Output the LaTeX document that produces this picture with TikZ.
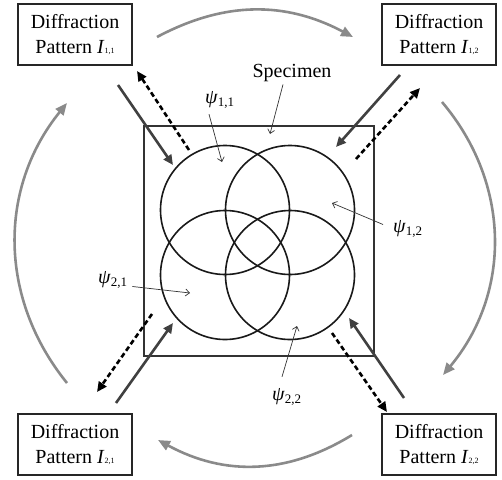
\documentclass[tikz,border=0pt]{standalone}
\usepackage{fontspec}
\setmainfont{Liberation Serif}
\usetikzlibrary{arrows.meta, positioning}

\newcommand{\patname}[1]{Diffraction\\Pattern \textit{I}{\fontsize{8}{8}\selectfont #1}}
\newcommand{\psiname}[1]{\textit{ψ}\raisebox{-3pt}{\fontsize{13}{13}\selectfont #1}}

\begin{document}
\begin{tikzpicture}[
    x=1pt, y=-1pt,
    every node/.style={font=\fontsize{20}{25}\selectfont},
    dpbox/.style={rectangle, draw=black!85, line width=1.1pt, minimum width=114pt, minimum height=61pt, align=center, inner sep=0pt},
    ring/.style={circle, draw=black!90, line width=1.6pt, minimum size=129pt, inner sep=0pt},
    tag/.style={inner sep=0pt},
    pointer/.style={-{Straight Barb[length=4pt,width=7pt]}, line width=0.7pt, black!80},
    probe/.style={-{Triangle[length=10pt,width=9pt]}, line width=2.6pt, black!75},
    exitwave/.style={-{Triangle[length=10pt,width=9pt]}, line width=2.6pt, black, dash pattern=on 5pt off 3pt},
    iter/.style={-{Triangle[length=12pt,width=10pt]}, line width=2.6pt, black!46}
]
\useasboundingbox (0,0) rectangle (502,479);

% diffraction patterns
\node (p11) [dpbox] at (75,34.5) {\patname{1,1}};
\node (p12) [dpbox] at (439,34.5) {\patname{1,2}};
\node (p21) [dpbox] at (75,444.5) {\patname{2,1}};
\node (p22) [dpbox] at (439,444.5) {\patname{2,2}};

% specimen and probe positions
\node (specimen) [rectangle, draw=black!80, line width=1.1pt, minimum size=230pt, inner sep=0pt] at (259,241) {};
\node (c11) [ring] at (225,210) {};
\node (c12) [ring] at (290,210) {};
\node (c21) [ring] at (225,275) {};
\node (c22) [ring] at (290,275) {};

% labels
\node (lspec) [tag, anchor=base] at (292,77) {Specimen};
\node (l11) [tag, anchor=base west] at (205,103) {\psiname{1,1}};
\node (l12) [tag, anchor=base west] at (393,232) {\psiname{1,2}};
\node (l21) [tag, anchor=base west] at (98,283) {\psiname{2,1}};
\node (l22) [tag, anchor=base west] at (272,400) {\psiname{2,2}};

\coordinate (tspec) at (270,134);
\coordinate (t11) at (222,162);
\coordinate (t12) at (332,203);
\coordinate (t21) at (190,293);
\coordinate (t22) at (297,326);

\draw [pointer] ([shift={(-9,3)}]lspec.south) -- (tspec);
\draw [pointer] ([shift={(4,6)}]l11.south west) -- (t11);
\draw [pointer] ([shift={(-10,-4)}]l12.west) -- (t12);
\draw [pointer] ([shift={(5,7)}]l21.east) -- (t21);
\draw [pointer] ([shift={(10,-11)}]l22.north west) -- (t22);

% illumination in, exit wave out
\coordinate (in11) at (118,85);   \coordinate (hit11) at (173,165);
\coordinate (out11) at (189,150); \coordinate (far11) at (137,71);
\coordinate (in12) at (400,75);   \coordinate (hit12) at (336,147);
\coordinate (out12) at (356,159); \coordinate (far12) at (420,88);
\coordinate (in21) at (116,403);  \coordinate (hit21) at (173,323);
\coordinate (out21) at (152,314); \coordinate (far21) at (97,392);
\coordinate (in22) at (404,398);  \coordinate (hit22) at (349,318);
\coordinate (out22) at (332,333); \coordinate (far22) at (387,412);

\draw [probe] (in11) -- (hit11);
\draw [exitwave] (out11) -- (far11);
\draw [probe] (in12) -- (hit12);
\draw [exitwave] (out12) -- (far12);
\draw [probe] (in21) -- (hit21);
\draw [exitwave] (out21) -- (far21);
\draw [probe] (in22) -- (hit22);
\draw [exitwave] (out22) -- (far22);

% scan order
\coordinate (a1) at (157,37);  \coordinate (b1) at (353,37);
\coordinate (a2) at (442,102); \coordinate (b2) at (443,375);
\coordinate (a3) at (352,435); \coordinate (b3) at (158,440);
\coordinate (a4) at (67,383);  \coordinate (b4) at (67,103);

\draw [iter] (a1) to[bend left=28] (b1);
\draw [iter] (a2) to[bend left=40] (b2);
\draw [iter] (a3) to[bend left=30] (b3);
\draw [iter] (a4) to[bend left=39] (b4);
\end{tikzpicture}
\end{document}
